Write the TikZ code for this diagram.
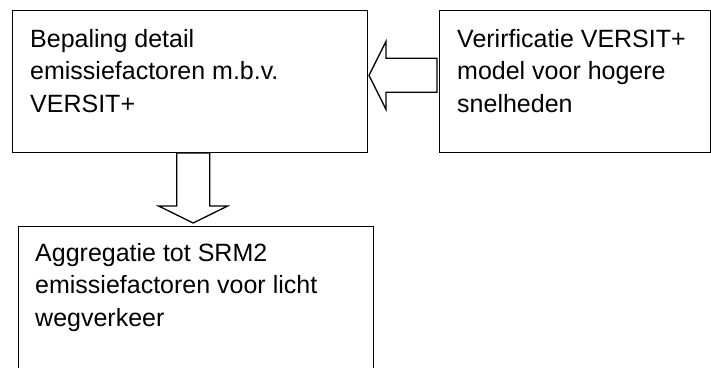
\documentclass[tikz,border=0pt]{standalone}
\usepackage{fontspec}
\setmainfont{Liberation Sans}
\usetikzlibrary{calc}

\tikzset{
	vak/.style={draw, line width=1.3pt, inner sep=0pt},
	tekst/.style={anchor=north west, inner sep=0pt, align=left, font=\fontsize{25}{32.5}\selectfont},
	blokpijl/.style={draw, line width=1.3pt, line join=miter, fill=white}
}

\begin{document}
	\begin{tikzpicture}[x=1pt, y=1pt]
		\useasboundingbox ( 0, 0 ) rectangle ( 711, 367 );
		\clip ( 0, 0 ) rectangle ( 711, 367 );

		% bepaling emissiefactoren
		\node [vak, anchor=south west, minimum width=355pt, minimum height=142pt] (bepaling) at ( 12, 214 ) {};
		\node [tekst] (bepalingtekst) at ( $(bepaling.north west)+( 18, -19 )$ ) {Bepaling detail\\emissiefactoren m.b.v.\\VERSIT+};

		% verificatie
		\node [vak, anchor=south west, minimum width=271pt, minimum height=142pt] (verif) at ( 439, 214 ) {};
		\node [tekst] (veriftekst) at ( $(verif.north west)+( 18, -19 )$ ) {Verirficatie VERSIT+\\model voor hogere\\snelheden};

		% aggregatie
		\node [vak, anchor=north west, minimum width=355pt, minimum height=150pt] (aggregatie) at ( 18, 141 ) {};
		\node [tekst] (aggregatietekst) at ( $(aggregatie.north west)+( 17, -17 )$ ) {Aggregatie tot SRM2\\emissiefactoren voor licht\\wegverkeer};

		% pijl verificatie -> bepaling
		\draw [blokpijl] ( $(verif.west)+( -2, 23 )$ ) -- ++( -51, 0 ) -- ++( 0, 17 ) -- ++( -17, -34 )
			-- ++( 17, -34 ) -- ++( 0, 17 ) -- ++( 51, 0 ) -- cycle;

		% pijl bepaling -> aggregatie
		\draw [blokpijl] ( $(bepaling.south)+( -13.5, 0 )$ ) -- ++( 0, -53 ) -- ++( -18, 0 ) -- ++( 34.5, -17 )
			-- ++( 34.5, 17 ) -- ++( -18, 0 ) -- ++( 0, 53 ) -- cycle;
	\end{tikzpicture}
\end{document}
